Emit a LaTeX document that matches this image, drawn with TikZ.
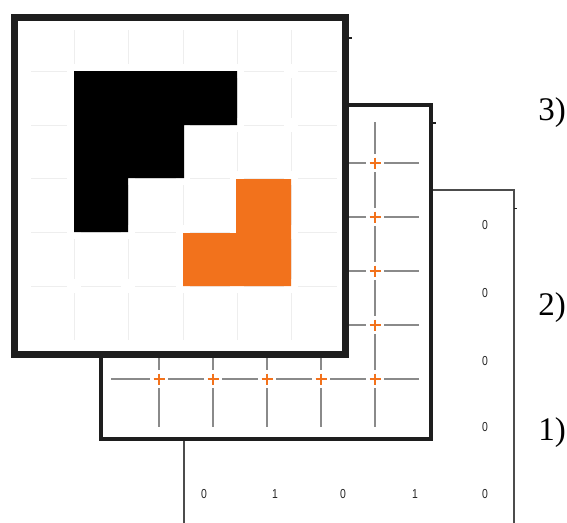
\documentclass[tikz,border=0pt]{standalone}
\usepackage{fontspec}
\setmainfont{Liberation Serif}
\newfontfamily\digitfont{Liberation Sans}
\definecolor{myorange}{HTML}{F2721C}
\definecolor{framedark}{HTML}{1E1E1E}
\definecolor{gridgray}{HTML}{8A8A8A}
\definecolor{faintgray}{HTML}{EEEEEE}
\newcommand{\dg}[1]{\scalebox{0.8}[1]{#1}}
\tikzset{
  panelthick/.style={draw=framedark, line width=7pt, fill=white},
  panelmid/.style={draw=framedark, line width=4pt, fill=white},
  panelthin/.style={draw=black!70, line width=1.6pt, fill=white},
  midgrid/.style={draw=gridgray, line width=1.4pt},
  topgrid/.style={draw=faintgray, line width=1pt},
  plusmark/.style={draw=myorange, line width=2pt},
  digit/.style={font=\digitfont\fontsize{13}{13}\selectfont, text=black!85, inner sep=0pt},
  steplabel/.style={font=\fontsize{33}{33}\selectfont, inner sep=0pt},
  tick/.style={draw=framedark, line width=1.6pt}
}
\begin{document}
\begin{tikzpicture}[x=1pt,y=-1pt]
\useasboundingbox (0,0) rectangle (567,522);
\begin{scope}
\clip (0,0) rectangle (567,522);
% ---------- bottom layer (1) ----------
\draw[panelthin] (184,190) rectangle (514,540);
\draw[tick] (514,208.5) -- (517,208.5);
\foreach \y in {225,293,361,427,494} \node[digit] at (485,\y) {\dg{0}};
\node[digit] (b1) at (204,494) {\dg{0}};
\node[digit] (b2) at (275,494) {\dg{1}};
\node[digit] (b3) at (343,494) {\dg{0}};
\node[digit] (b4) at (415,494) {\dg{1}};
% ---------- middle layer (2) ----------
\draw[panelmid] (101,105) rectangle (431,439);
\draw[tick] (433,123) -- (436,123);
\def\gap{9}
% horizontal segments
\foreach \y in {163,217,271,325,379} {
  \draw[midgrid] (111,\y) -- (159-\gap,\y);
  \foreach \a/\b in {159/213,213/267,267/321,321/375}
    \draw[midgrid] (\a+\gap,\y) -- (\b-\gap,\y);
  \draw[midgrid] (375+\gap,\y) -- (419,\y);
}
% vertical segments
\foreach \x in {159,213,267,321,375} {
  \draw[midgrid] (\x,122) -- (\x,163-\gap);
  \foreach \a/\b in {163/217,217/271,271/325,325/379}
    \draw[midgrid] (\x,\a+\gap) -- (\x,\b-\gap);
  \draw[midgrid] (\x,379+\gap) -- (\x,427);
}
\foreach \x in {159,213,267,321,375}
  \foreach \y in {163,217,271,325,379}
    \draw[plusmark] (\x-5.5,\y) -- (\x+5.5,\y) (\x,\y-5.5) -- (\x,\y+5.5);
% ---------- top layer (3) ----------
\draw[panelthick] (14.5,17.5) rectangle (345.5,354.5);
\draw[tick] (349,38) -- (352,38);
\def\tg{7}
\foreach \y in {71,125,178,232,286} {
  \draw[topgrid] (31,\y) -- (74-\tg,\y);
  \foreach \a/\b in {74/128,128/183,183/237,237/291}
    \draw[topgrid] (\a+\tg,\y) -- (\b-\tg,\y);
  \draw[topgrid] (291+\tg,\y) -- (337,\y);
}
\foreach \x in {74,128,183,237,291} {
  \draw[topgrid] (\x,30) -- (\x,71-\tg);
  \foreach \a/\b in {71/125,125/178,178/232,232/286}
    \draw[topgrid] (\x,\a+\tg) -- (\x,\b-\tg);
  \draw[topgrid] (\x,286+\tg) -- (\x,340);
}
\fill[black] (74,71) -- (237,71) -- (237,125) -- (184,125) -- (184,178)
  -- (128,178) -- (128,232) -- (74,232) -- cycle;
\fill[myorange] (236,179) -- (291,179) -- (291,286) -- (183,286)
  -- (183,233) -- (236,233) -- cycle;
\end{scope}
% ---------- labels ----------
\node[steplabel] (l3) at (552,113) {3)};
\node[steplabel] (l2) at (552,308) {2)};
\node[steplabel] (l1) at (552,433) {1)};
\end{tikzpicture}
\end{document}
